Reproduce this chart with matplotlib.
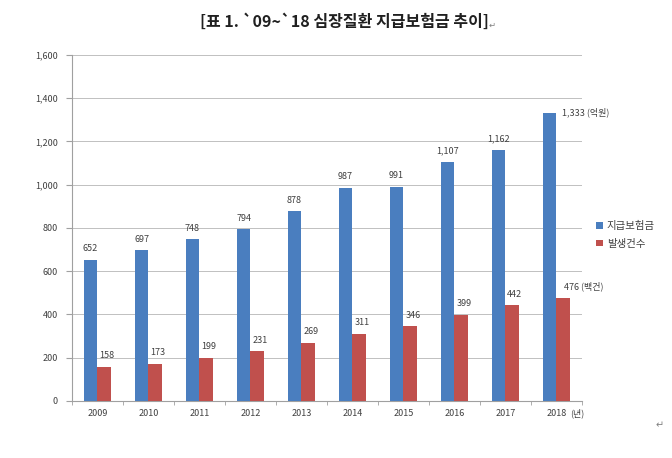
import numpy as np
import matplotlib.pyplot as plt

plt.rcParams['font.family'] = ['Noto Sans CJK KR', 'DejaVu Sans']

years = ['2009', '2010', '2011', '2012', '2013', '2014', '2015', '2016', '2017', '2018']
payout = [652, 697, 748, 794, 878, 987, 991, 1107, 1162, 1333]
cases = [158, 173, 199, 231, 269, 311, 346, 399, 442, 476]

blue = '#4a7ebf'
red = '#c0504d'
txt = '#404040'

fig = plt.figure(figsize=(6.72, 4.58), dpi=100)
ax = fig.add_axes([0.107, 0.1245, 0.759, 0.7555])

x = np.arange(len(years))
w = 0.27
ax.bar(x - w / 2, payout, w, color=blue, label='지급보험금', zorder=3)
ax.bar(x + w / 2, cases, w, color=red, label='발생건수', zorder=3)

# data labels
for i, v in enumerate(payout):
    s = f"{v:,}"
    if i == len(years) - 1:
        ax.text(x[i] + 0.1, v, s + ' (억원)', ha='left', va='center', fontsize=6.5, color=txt)
    else:
        ax.text(x[i] - w / 2, v + 30, s, ha='center', va='bottom', fontsize=6.5, color=txt)
for i, v in enumerate(cases):
    s = f"{v:,}"
    if i == len(years) - 1:
        ax.text(x[i] + 0.15, v + 30, s + ' (백건)', ha='left', va='bottom', fontsize=6.5, color=txt)
    else:
        ax.text(x[i] + w / 2 + 0.05, v + 30, s, ha='center', va='bottom', fontsize=6.5, color=txt)

ax.set_xlim(-0.5, len(years) - 0.5)
ax.set_ylim(0, 1600)
ax.set_yticks(np.arange(0, 1601, 200))
ax.set_yticklabels([f"{t:,}" for t in range(0, 1601, 200)], fontsize=6.5, color=txt)
ax.set_xticks(x)
ax.set_xticklabels(years, fontsize=6.5, color=txt)
# unit next to the last year label
ax.annotate('(년)', xy=(x[-1], 0), xycoords=('data', 'axes fraction'),
            xytext=(9.5, -5.2), textcoords='offset points', ha='left', va='top',
            fontsize=6.5, color=txt)
ax.set_xticks(np.arange(-0.5, len(years)), minor=True)
ax.tick_params(axis='x', which='major', length=0, pad=6)
ax.tick_params(axis='x', which='minor', length=3, color='#a0a0a0')
ax.tick_params(axis='y', length=4, color='#a0a0a0', pad=6)

ax.grid(axis='y', color='#c0c0c0', linewidth=0.7, zorder=0)
for sp in ['top', 'right']:
    ax.spines[sp].set_visible(False)
ax.spines['left'].set_color('#a0a0a0')
ax.spines['bottom'].set_color('#a0a0a0')

ax.legend(loc='center left', bbox_to_anchor=(1.01, 0.48), frameon=False,
          fontsize=7.5, handlelength=0.6, handleheight=0.6, handletextpad=0.4,
          labelspacing=0.7, labelcolor=txt)

fig.text(0.513, 0.952, '[표 1. `09~`18 심장질환 지급보험금 추이]', ha='center', va='center',
         fontsize=11.5, fontweight='bold', color='#202020')
fig.text(0.727, 0.945, '↵', ha='left', va='center', fontsize=6, color='#808080',
         family=['DejaVu Sans'])
fig.text(0.982, 0.072, '↵', ha='center', va='center', fontsize=7, color='#808080',
         family=['DejaVu Sans'])

fig.savefig('out.png', dpi=100)
